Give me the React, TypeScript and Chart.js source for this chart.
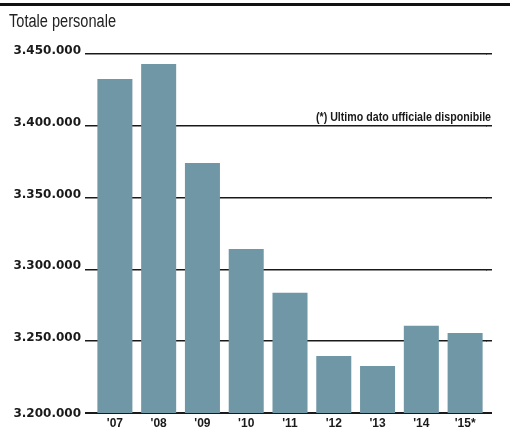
import { useEffect, useRef } from 'react';
import { Chart, registerables } from 'chart.js';

Chart.register(...registerables);

const categories = ["'07", "'08", "'09", "'10", "'11", "'12", "'13", "'14", "'15*"];
const personale = [3432600, 3443000, 3374100, 3314200, 3283800, 3239700, 3232700, 3260800, 3255700];
const yTicks = [3200000, 3250000, 3300000, 3350000, 3400000, 3450000];
const yTickLabels = ['3.200.000', '3.250.000', '3.300.000', '3.350.000', '3.400.000', '3.450.000'];
const titleText = 'Totale personale';
const noteText = '(*) Ultimo dato ufficiale disponibile';

const SANS = '"Liberation Sans", Arial, sans-serif';
const INK = '#1a1a1a';
const BAR = '#7097a6';

function alignPx(pixel: number, width: number) {
  const half = width / 2;
  return Math.round(pixel - half) + half;
}

function narrowText(ctx: any, text: string, font: string, targetWidth: number, x: number, y: number, align: 'left' | 'right') {
  ctx.save();
  ctx.font = font;
  ctx.textBaseline = 'alphabetic';
  ctx.textAlign = 'left';
  const w = ctx.measureText(text).width;
  const k = Math.min(1, targetWidth / w);
  const startX = align === 'left' ? x : x - w * k;
  ctx.translate(startX, y);
  ctx.scale(k, 1);
  ctx.fillText(text, 0, 0);
  ctx.restore();
}

const decor = {
  id: 'decor',
  beforeDatasetsDraw(chart: any) {
    const { ctx, chartArea, scales } = chart;
    const y = scales.y;
    ctx.save();
    ctx.strokeStyle = INK;
    yTicks.forEach((v, i) => {
      const lw = i === 0 ? 2 : 1.5;
      const py = alignPx(y.getPixelForValue(v), lw);
      ctx.lineWidth = lw;
      ctx.beginPath();
      ctx.moveTo(chartArea.right - 1, py);
      ctx.lineTo(chartArea.right + 5, py);
      ctx.stroke();
    });
    ctx.restore();
  },
  afterDraw(chart: any) {
    const { ctx, chartArea, scales } = chart;
    const y = scales.y;
    ctx.save();
    // header rule at very top
    ctx.fillStyle = '#111';
    ctx.fillRect(0, 3, 510, 3);
    // title
    ctx.fillStyle = '#222';
    narrowText(ctx, titleText, 'normal 18px ' + SANS, 107, 9, 27, 'left');
    // y labels
    ctx.fillStyle = INK;
    ctx.font = 'bold 12px "DejaVu Sans"';
    ctx.textAlign = 'right';
    yTicks.forEach((v, i) => {
      const py = y.getPixelForValue(v);
      if (i === 0) {
        ctx.textBaseline = 'middle';
        ctx.fillText(yTickLabels[i], chartArea.left - 12, py + 1);
      } else {
        ctx.textBaseline = 'alphabetic';
        ctx.fillText(yTickLabels[i], chartArea.left - 12, py);
      }
    });
    // note
    narrowText(ctx, noteText, 'bold 12px ' + SANS, 175, chartArea.right + 4, y.getPixelForValue(3400000) - 5, 'right');
    ctx.restore();
  },
};

export default function App() {
  const ref = useRef<HTMLCanvasElement | null>(null);
  useEffect(() => {
    document.body.style.margin = '0';
    document.body.style.background = '#fff';
    const canvas = ref.current;
    if (!canvas) return;
    const chart = new Chart(canvas, {
      type: 'bar',
      data: {
        labels: categories,
        datasets: [
          {
            data: personale,
            backgroundColor: BAR,
            borderWidth: 0,
            barPercentage: 0.8,
            categoryPercentage: 1.0,
          },
        ],
      },
      options: {
        animation: false,
        responsive: false,
        devicePixelRatio: 1,
        layout: { padding: { left: 0, right: 37, top: 54, bottom: 0 } },
        plugins: {
          legend: { display: false },
          tooltip: { enabled: false },
          title: { display: false },
        },
        scales: {
          x: {
            grid: { display: false, drawTicks: false },
            border: { display: false },
            ticks: {
              color: INK,
              padding: 3,
              font: { family: SANS, size: 12, weight: 'bold' },
            },
            afterFit: (s: any) => {
              s.height = 19;
            },
          },
          y: {
            min: 3200000,
            max: 3450000,
            border: { display: false },
            grid: {
              color: INK,
              lineWidth: (c: any) => (c.tick && c.tick.value === 3200000 ? 2 : 1.5),
              tickLength: 8,
              drawTicks: true,
            },
            ticks: { display: false, stepSize: 50000 },
            afterBuildTicks: (s: any) => {
              s.ticks = yTicks.map((v) => ({ value: v }));
            },
            afterFit: (s: any) => {
              s.width = 93;
            },
          },
        },
      },
      plugins: [decor],
    });
    return () => chart.destroy();
  }, []);
  return (
    <div style={{ width: 524, height: 432 }}>
      <canvas ref={ref} width={524} height={432} style={{ display: 'block' }} />
    </div>
  );
}
